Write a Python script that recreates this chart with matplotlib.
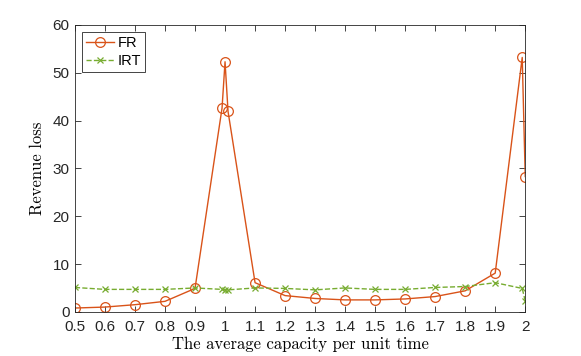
import matplotlib
matplotlib.use("Agg")
import matplotlib.pyplot as plt

# capacity values (x) and revenue loss for each policy
capacity = [0.5, 0.6, 0.7, 0.8, 0.9, 0.99, 1.0, 1.01, 1.1, 1.2, 1.3, 1.4,
            1.5, 1.6, 1.7, 1.8, 1.9, 1.99, 2.0]
fr_loss = [0.8, 1.0, 1.5, 2.2, 4.9, 42.6, 52.3, 41.9, 6.1, 3.4, 2.8, 2.5,
           2.5, 2.7, 3.2, 4.4, 8.1, 53.2, 28.3]
irt_loss = [5.1, 4.7, 4.7, 4.7, 5.0, 4.7, 4.6, 4.6, 5.0, 4.9, 4.6, 5.0,
            4.7, 4.7, 5.1, 5.3, 6.1, 4.9, 2.3]
xticks = [0.5, 0.6, 0.7, 0.8, 0.9, 1.0, 1.1, 1.2, 1.3, 1.4, 1.5, 1.6,
          1.7, 1.8, 1.9, 2.0]
xticklabels = ["0.5", "0.6", "0.7", "0.8", "0.9", "1", "1.1", "1.2", "1.3",
               "1.4", "1.5", "1.6", "1.7", "1.8", "1.9", "2"]

plt.rcParams['font.family'] = ['Liberation Sans', 'DejaVu Sans']

fig = plt.figure(figsize=(5.81, 3.56), dpi=100)
ax = fig.add_axes([0.129, 0.124, 0.775, 0.806])

ax.plot(capacity, fr_loss, color='#D95319', lw=1.0, marker='o', ms=7,
        mfc='none', mec='#D95319', mew=0.9, label='FR')
ax.plot(capacity, irt_loss, color='#77AC30', lw=1.0, ls='--', marker='x',
        ms=5, mew=0.9, label='IRT')

ax.set_xlim(0.5, 2.0)
ax.set_ylim(0, 60)
ax.set_xticks(xticks)
ax.set_xticklabels(xticklabels)
ax.set_yticks(range(0, 61, 10))

ax.tick_params(direction='in', top=True, right=True, labelsize=11,
               colors='#262626', length=4, width=0.6)
ax.tick_params(axis='x', pad=6)
ax.tick_params(axis='y', pad=4)
for s in ax.spines.values():
    s.set_color('#262626')
    s.set_linewidth(0.6)

ax.set_xlabel('The average capacity per unit time', fontfamily='cmr10',
              fontsize=12, labelpad=2)
ax.set_ylabel('Revenue loss', fontfamily='cmr10', fontsize=12, labelpad=5)

leg = ax.legend(loc='upper left', fontsize=10.5, fancybox=False,
                edgecolor='#262626', framealpha=1, borderaxespad=0.5,
                handlelength=1.9, handletextpad=0.3, borderpad=0.25,
                labelspacing=0.3)
leg.get_frame().set_linewidth(0.6)

fig.savefig('out.png', dpi=100)
